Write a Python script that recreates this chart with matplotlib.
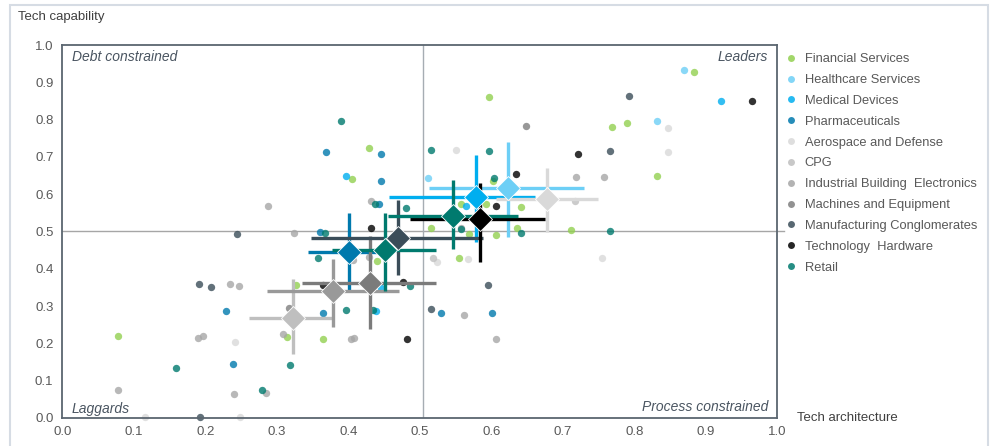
import numpy as np
import matplotlib.pyplot as plt
from matplotlib.lines import Line2D
from matplotlib.patches import Rectangle

plt.rcParams['font.family'] = ['Liberation Sans', 'DejaVu Sans']

categories = ['Financial Services', 'Healthcare Services', 'Medical Devices', 'Pharmaceuticals',
              'Aerospace and Defense', 'CPG', 'Industrial Building  Electronics',
              'Machines and Equipment', 'Manufacturing Conglomerates', 'Technology  Hardware', 'Retail']
colors = ['#92D050', '#6DCFF6', '#00AEEF', '#0079AD', '#D9D9D9', '#BFBFBF', '#A6A6A6',
          '#7F7F7F', '#3B4D59', '#000000', '#007A6E']

# company points (tech architecture, tech capability)
financial = [(0.077, 0.22), (0.327, 0.356), (0.314, 0.217), (0.365, 0.211), (0.44, 0.42),
             (0.429, 0.725), (0.405, 0.642), (0.555, 0.429), (0.516, 0.509), (0.569, 0.494),
             (0.607, 0.491), (0.636, 0.509), (0.712, 0.504), (0.597, 0.861), (0.557, 0.573),
             (0.592, 0.573), (0.602, 0.635), (0.641, 0.566), (0.769, 0.781), (0.790, 0.790),
             (0.884, 0.927), (0.832, 0.648)]
healthcare = [(0.512, 0.644), (0.870, 0.933), (0.832, 0.796)]
medical = [(0.396, 0.648), (0.438, 0.287), (0.446, 0.349), (0.564, 0.568), (0.921, 0.850)]
pharma = [(0.229, 0.288), (0.239, 0.145), (0.36, 0.499), (0.364, 0.282), (0.368, 0.713),
          (0.445, 0.708), (0.446, 0.635), (0.443, 0.573), (0.529, 0.282), (0.601, 0.282)]
aerospace = [(0.551, 0.718), (0.524, 0.419), (0.568, 0.425), (0.755, 0.43), (0.847, 0.778),
             (0.847, 0.714), (0.241, 0.205), (0.116, 0.003), (0.249, 0.002)]
cpg = [(0.519, 0.43), (0.717, 0.582)]
industrial = [(0.077, 0.075), (0.234, 0.359), (0.247, 0.355), (0.189, 0.215), (0.197, 0.221),
              (0.240, 0.064), (0.285, 0.066), (0.324, 0.496), (0.309, 0.224), (0.288, 0.568),
              (0.432, 0.582), (0.718, 0.645), (0.758, 0.645), (0.562, 0.275), (0.606, 0.211),
              (0.404, 0.211), (0.408, 0.214), (0.558, 0.51), (0.407, 0.424), (0.429, 0.432)]
machines = [(0.648, 0.784), (0.317, 0.294)]
conglomerates = [(0.191, 0.358), (0.208, 0.352), (0.244, 0.493), (0.192, 0.003), (0.516, 0.291),
                 (0.596, 0.357), (0.766, 0.716), (0.793, 0.864)]
hardware = [(0.431, 0.509), (0.364, 0.356), (0.477, 0.365), (0.482, 0.213), (0.634, 0.653),
            (0.606, 0.568), (0.721, 0.708), (0.964, 0.85)]
retail = [(0.159, 0.133), (0.279, 0.075), (0.319, 0.142), (0.358, 0.43), (0.367, 0.496),
          (0.396, 0.29), (0.435, 0.29), (0.486, 0.354), (0.390, 0.795), (0.437, 0.573),
          (0.481, 0.564), (0.515, 0.718), (0.597, 0.717), (0.604, 0.644), (0.557, 0.506),
          (0.641, 0.495), (0.766, 0.5)]
points = [financial, healthcare, medical, pharma, aerospace, cpg, industrial,
          machines, conglomerates, hardware, retail]

# sector averages with ranges
avg_color = ['#6DCFF6', '#00AEEF', '#0079AD', '#D9D9D9', '#BFBFBF', '#999999',
             '#7B7B7B', '#3B4D59', '#000000', '#007A6E', '#007A6E']
avg_x = [0.623, 0.579, 0.401, 0.678, 0.322, 0.379, 0.430, 0.470, 0.584, 0.451, 0.547]
avg_x_lo = [0.513, 0.457, 0.343, 0.606, 0.261, 0.286, 0.335, 0.347, 0.486, 0.377, 0.456]
avg_x_hi = [0.730, 0.661, 0.459, 0.749, 0.377, 0.471, 0.523, 0.588, 0.675, 0.523, 0.638]
avg_y = [0.616, 0.592, 0.445, 0.586, 0.269, 0.340, 0.363, 0.483, 0.533, 0.450, 0.542]
avg_y_lo = [0.486, 0.473, 0.340, 0.499, 0.172, 0.244, 0.239, 0.383, 0.419, 0.340, 0.453]
avg_y_hi = [0.741, 0.705, 0.550, 0.670, 0.373, 0.426, 0.488, 0.584, 0.630, 0.550, 0.638]

fig = plt.figure(figsize=(9.92, 4.46), dpi=100)
ax = fig.add_axes([0.063, 0.0628, 0.7205, 0.8363])

ax.plot([0, 1.01], [0.5, 0.5], color='#A6A6A6', lw=1, zorder=1, clip_on=False)
ax.axvline(0.505, color='#A6ADB3', lw=1, zorder=1)

for pts, c in zip(points, colors):
    xs = [p[0] for p in pts]
    ys = [p[1] for p in pts]
    ax.scatter(xs, ys, s=28, color=c, alpha=0.8, linewidths=0, zorder=2, clip_on=False)

for i in range(len(avg_x)):
    xe = [[avg_x[i] - avg_x_lo[i]], [avg_x_hi[i] - avg_x[i]]]
    ye = [[avg_y[i] - avg_y_lo[i]], [avg_y_hi[i] - avg_y[i]]]
    ax.errorbar(avg_x[i], avg_y[i], xerr=xe, yerr=ye, fmt='D', ms=12.5, color=avg_color[i],
                mec='white', mew=0.6, elinewidth=2.4, capsize=0, zorder=3 + i * 0.01)

ax.set_xlim(0, 1)
ax.set_ylim(0, 1)
ticks = np.arange(0, 1.01, 0.1)
ax.set_xticks(ticks)
ax.set_yticks(ticks)
ax.set_xticklabels(['%.1f' % t for t in ticks])
ax.set_yticklabels(['%.1f' % t for t in ticks])
ax.tick_params(length=0, labelsize=9.5, labelcolor='#595959')
ax.tick_params(axis='y', pad=6.5)
ax.tick_params(axis='x', pad=5.5)
for s in ax.spines.values():
    s.set_color('#5B6670')
    s.set_linewidth(1.3)

qc = '#4A5561'
ax.text(0.013, 0.968, 'Debt constrained', style='italic', fontsize=10, color=qc,
        ha='left', va='center', transform=ax.transAxes)
ax.text(0.987, 0.968, 'Leaders', style='italic', fontsize=10, color=qc,
        ha='right', va='center', transform=ax.transAxes)
ax.text(0.013, 0.025, 'Laggards', style='italic', fontsize=10, color=qc,
        ha='left', va='center', transform=ax.transAxes)
ax.text(0.987, 0.03, 'Process constrained', style='italic', fontsize=10, color=qc,
        ha='right', va='center', transform=ax.transAxes)

fig.text(18 / 992, 1 - 17 / 446, 'Tech capability', fontsize=9.5, color='#404040',
         ha='left', va='center')
fig.text(797 / 992, 1 - 418 / 446, 'Tech architecture', fontsize=9.5, color='#404040',
         ha='left', va='center')

handles = [Line2D([], [], ls='', marker='o', ms=5, color=c, mew=0, alpha=0.85) for c in colors]
leg = ax.legend(handles, categories, loc='upper left', bbox_to_anchor=(0.997, 1.002),
                frameon=False, fontsize=9.3, handlelength=1.0, handletextpad=0.6,
                labelspacing=0.68, borderaxespad=0.3)
for t in leg.get_texts():
    t.set_color('#595959')

fig.add_artist(Rectangle((10 / 992, -0.05), 978 / 992, 1.05 - 5 / 446, transform=fig.transFigure,
                         fill=False, edgecolor='#D6DCE4', lw=1.5))

fig.savefig('out.png', dpi=100)
